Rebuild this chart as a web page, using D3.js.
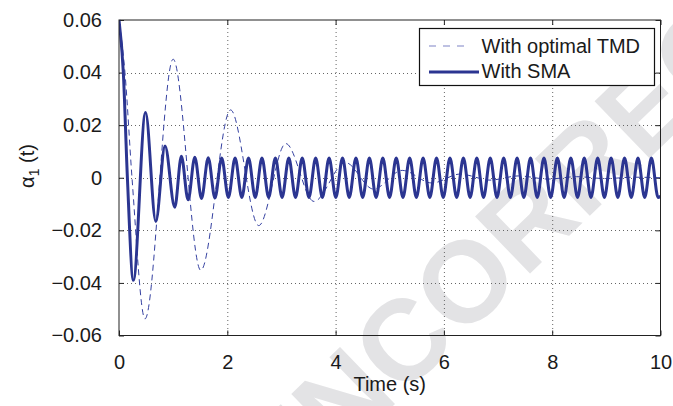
<!DOCTYPE html>
<html>
<head>
<meta charset="utf-8">
<script src="https://cdn.jsdelivr.net/npm/d3@7"></script>
<style>
  body { margin: 0; background: #fff; }
  text { font-family: "Liberation Sans", Arial, sans-serif; }
</style>
</head>
<body>
<svg id="chart" width="673" height="406"></svg>
<script>
// values
const xTicks = [0, 2, 4, 6, 8, 10];
const yTicks = [-0.06, -0.04, -0.02, 0, 0.02, 0.04, 0.06];
const legendLabels = ["With optimal TMD", "With SMA"];

// [time, alpha1] extrema of the TMD response
const tmdPoints = [
  [0, 0.060], [0.11, 0.040], [0.24, 0.000], [0.48, -0.0537], [1.00, 0.0451],
  [1.51, -0.0352], [2.06, 0.0258], [2.58, -0.0182], [3.08, 0.0130], [3.60, -0.0090],
  [4.18, 0.0058], [4.70, -0.0043], [5.23, 0.0028], [5.78, -0.0020], [6.30, 0.0014],
  [6.85, -0.0009], [7.38, 0.0007], [7.92, -0.0005], [8.45, 0.0004], [8.98, -0.0003],
  [9.52, 0.0002], [10, 0.0000]
];

// [time, alpha1] extrema of the SMA response
const smaPoints = [
  [0, 0.060], [0.08, 0.040], [0.155, 0.000], [0.265, -0.0390], [0.49, 0.0248],
  [0.68, -0.0166], [0.85, 0.0121], [1.03, -0.0112], [1.152, 0.0082], [1.276, -0.0084],
  [1.400, 0.0078], [1.524, -0.0079], [1.648, 0.0076], [1.772, -0.0077], [1.896, 0.0075],
  [2.020, -0.0075], [2.144, 0.0075], [2.268, -0.0075], [2.392, 0.0075], [2.516, -0.0075],
  [2.640, 0.0075], [2.764, -0.0075], [2.888, 0.0075], [3.012, -0.0075], [3.136, 0.0075],
  [3.260, -0.0075], [3.384, 0.0075], [3.508, -0.0075], [3.632, 0.0075], [3.756, -0.0075],
  [3.880, 0.0075], [4.004, -0.0075], [4.128, 0.0075], [4.252, -0.0075], [4.376, 0.0075],
  [4.500, -0.0075], [4.624, 0.0075], [4.748, -0.0075], [4.872, 0.0075], [4.996, -0.0075],
  [5.120, 0.0075], [5.244, -0.0075], [5.368, 0.0075], [5.492, -0.0075], [5.616, 0.0075],
  [5.740, -0.0075], [5.864, 0.0075], [5.988, -0.0075], [6.112, 0.0075], [6.236, -0.0075],
  [6.360, 0.0075], [6.484, -0.0075], [6.608, 0.0075], [6.732, -0.0075], [6.856, 0.0075],
  [6.980, -0.0075], [7.104, 0.0075], [7.228, -0.0075], [7.352, 0.0075], [7.476, -0.0075],
  [7.600, 0.0075], [7.724, -0.0075], [7.848, 0.0075], [7.972, -0.0075], [8.096, 0.0075],
  [8.220, -0.0075], [8.344, 0.0075], [8.468, -0.0075], [8.592, 0.0075], [8.716, -0.0075],
  [8.840, 0.0075], [8.964, -0.0075], [9.088, 0.0075], [9.212, -0.0075], [9.336, 0.0075],
  [9.460, -0.0075], [9.584, 0.0075], [9.708, -0.0075], [9.832, 0.0075], [9.956, -0.0075],
  [10, -0.0070]
];

const width = 673, height = 406;
const margin = {top: 20, right: 12.5, bottom: 70.5, left: 119};
const lineColor = "#2b3591";

const svg = d3.select("#chart");

const x = d3.scaleLinear().domain([0, 10]).range([margin.left, width - margin.right]);
const y = d3.scaleLinear().domain([-0.06, 0.06]).range([height - margin.bottom, margin.top]);

// watermark in the background
svg.append("text")
  .attr("transform", "translate(281,514) rotate(-44)")
  .attr("font-size", 115)
  .attr("font-weight", "bold")
  .attr("fill", "#e3e3e5")
  .text("UNCORRECTED PROOF");

// dotted grid
const grid = svg.append("g")
  .attr("stroke", "#666")
  .attr("stroke-width", 1)
  .attr("stroke-dasharray", "1,3");

grid.selectAll(".vg")
  .data(xTicks.slice(1, -1))
  .join("line")
  .attr("x1", d => x(d) + 0.5).attr("x2", d => x(d) + 0.5)
  .attr("y1", y(0.06)).attr("y2", y(-0.06));

grid.selectAll(".hg")
  .data(yTicks.slice(1, -1))
  .join("line")
  .attr("y1", d => Math.round(y(d)) + 0.5).attr("y2", d => Math.round(y(d)) + 0.5)
  .attr("x1", x(0)).attr("x2", x(10));

// axes with inward ticks (box on all four sides)
const fmt = d => d === 0 ? "0" : d3.format(".2f")(d);

const xAxis = svg.append("g")
  .attr("transform", `translate(0,${y(-0.06)})`)
  .call(d3.axisBottom(x).tickValues(xTicks).tickSizeInner(-5).tickSizeOuter(0).tickPadding(19).tickFormat(d3.format("d")));

const yAxis = svg.append("g")
  .attr("transform", `translate(${x(0)},0)`)
  .call(d3.axisLeft(y).tickValues(yTicks).tickSizeInner(-5).tickSizeOuter(0).tickPadding(17).tickFormat(fmt));

svg.append("g")
  .attr("transform", `translate(0,${y(0.06)})`)
  .call(d3.axisTop(x).tickValues(xTicks).tickSizeInner(-5).tickSizeOuter(0).tickFormat(""));

svg.append("g")
  .attr("transform", `translate(${x(10)},0)`)
  .call(d3.axisRight(y).tickValues(yTicks).tickSizeInner(-5).tickSizeOuter(0).tickFormat(""));

svg.selectAll(".domain").remove();
svg.selectAll(".tick line").attr("stroke", "#222");
svg.selectAll(".tick text")
  .attr("font-size", 20)
  .attr("font-family", "'Liberation Sans', Arial, sans-serif")
  .attr("fill", "#1a1a1a");

// lines
svg.append("clipPath").attr("id", "plot-clip")
  .append("rect")
  .attr("x", x(0)).attr("y", y(0.06) - 1)
  .attr("width", x(10) - x(0)).attr("height", y(-0.06) - y(0.06) + 2);

const line = d3.line()
  .x(d => x(d[0]))
  .y(d => y(d[1]))
  .curve(d3.curveMonotoneX);

const plot = svg.append("g").attr("clip-path", "url(#plot-clip)");

plot.append("path")
  .datum(tmdPoints)
  .attr("fill", "none")
  .attr("stroke", "#3440a0")
  .attr("stroke-width", 1)
  .attr("stroke-dasharray", "6,4")
  .attr("d", line);

plot.append("path")
  .datum(smaPoints)
  .attr("fill", "none")
  .attr("stroke", lineColor)
  .attr("stroke-width", 3)
  .attr("d", line);

// frame
svg.append("rect")
  .attr("x", x(0)).attr("y", y(0.06))
  .attr("width", x(10) - x(0)).attr("height", y(-0.06) - y(0.06))
  .attr("fill", "none")
  .attr("stroke", "#222")
  .attr("stroke-width", 1);

// axis labels
svg.append("text")
  .attr("x", (x(0) + x(10)) / 2)
  .attr("y", 391)
  .attr("text-anchor", "middle")
  .attr("font-size", 20)
  .attr("fill", "#1a1a1a")
  .text("Time (s)");

const yLabel = svg.append("text")
  .attr("transform", "translate(34,166) rotate(-90)")
  .attr("text-anchor", "middle")
  .attr("font-size", 20)
  .attr("fill", "#1a1a1a");
yLabel.append("tspan").text("\u03b1");
yLabel.append("tspan").attr("font-size", 14).attr("dy", 5).text("1");
yLabel.append("tspan").attr("dy", -5).text(" (t)");

// legend
const legend = svg.append("g");
legend.append("rect")
  .attr("x", 419.5).attr("y", 28.5)
  .attr("width", 235).attr("height", 57)
  .attr("fill", "#fff")
  .attr("stroke", "#111")
  .attr("stroke-width", 1.2);

legend.append("line")
  .attr("x1", 429).attr("x2", 471).attr("y1", 46).attr("y2", 46)
  .attr("stroke", "#7f84c6").attr("stroke-width", 1.2)
  .attr("stroke-dasharray", "7,7");

legend.append("line")
  .attr("x1", 429).attr("x2", 479).attr("y1", 72).attr("y2", 72)
  .attr("stroke", lineColor).attr("stroke-width", 3);

legend.selectAll(".lt")
  .data(legendLabels)
  .join("text")
  .attr("x", 481.5)
  .attr("y", (d, i) => 52.5 + i * 25.5)
  .attr("font-size", 20)
  .attr("fill", "#1a1a1a")
  .text(d => d);
</script>
</body>
</html>
